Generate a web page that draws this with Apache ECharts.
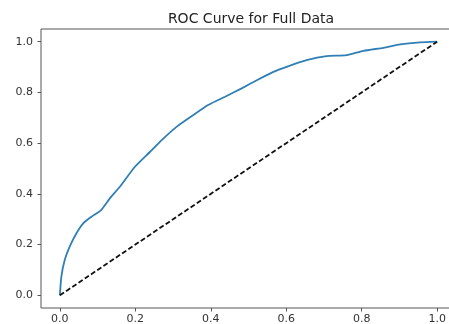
<!DOCTYPE html>
<html>
<head>
<meta charset="utf-8">
<script src="https://cdn.jsdelivr.net/npm/echarts@6/dist/echarts.min.js"></script>
<style>
  html, body { margin: 0; padding: 0; background: #fff; }
  #chart { width: 449px; height: 324px; }
</style>
</head>
<body>
<div id="chart"></div>
<script>
// false positive rate / true positive rate
const fpr = [0, 0.004, 0.013, 0.026, 0.044, 0.062, 0.084, 0.11, 0.133, 0.159, 0.199, 0.239, 0.27, 0.31, 0.354, 0.393, 0.438, 0.482, 0.522, 0.566, 0.601, 0.654, 0.707, 0.76, 0.805, 0.858, 0.902, 0.955, 1];
const tpr = [0, 0.074, 0.14, 0.192, 0.245, 0.284, 0.31, 0.337, 0.383, 0.428, 0.507, 0.566, 0.612, 0.665, 0.711, 0.75, 0.783, 0.816, 0.848, 0.881, 0.901, 0.927, 0.943, 0.947, 0.964, 0.976, 0.989, 0.997, 1];
const chanceLine = [[0, 0], [1, 1]];
const tickValues = [0, 0.2, 0.4, 0.6, 0.8, 1.0];

const chart = echarts.init(document.getElementById('chart'));
const font = 'DejaVu Sans';

function axis(margin) {
    return {
        type: 'value',
        min: -0.05,
        max: 1.05,
        splitLine: { show: false },
        axisLine: { show: false, onZero: false },
        axisTick: {
            show: true,
            length: 3.5,
            customValues: tickValues,
            lineStyle: { color: '#555', width: 1 }
        },
        axisLabel: {
            customValues: tickValues,
            color: '#333',
            fontFamily: font,
            fontSize: 11,
            margin: margin,
            formatter: v => v.toFixed(1)
        }
    };
}

chart.setOption({
    animation: false,
    title: {
        text: 'ROC Curve for Full Data',
        left: 246,
        textAlign: 'center',
        top: 7,
        textStyle: { fontFamily: font, fontSize: 14, fontWeight: 'normal', color: '#222' }
    },
    grid: {
        left: 41, top: 29, width: 415, height: 279,
        containLabel: false,
        outerBoundsMode: 'none',
        show: true, borderColor: '#555', borderWidth: 1
    },
    xAxis: axis(6),
    yAxis: axis(8),
    series: [
        {
            type: 'line',
            data: fpr.map((x, i) => [x, tpr[i]]),
            showSymbol: false,
            smooth: 0.2,
            lineStyle: { color: '#2f7fb6', width: 1.8 }
        },
        {
            type: 'line',
            data: chanceLine,
            showSymbol: false,
            lineStyle: { color: '#111', width: 1.8, type: [5, 2.5] }
        }
    ]
});
</script>
</body>
</html>
